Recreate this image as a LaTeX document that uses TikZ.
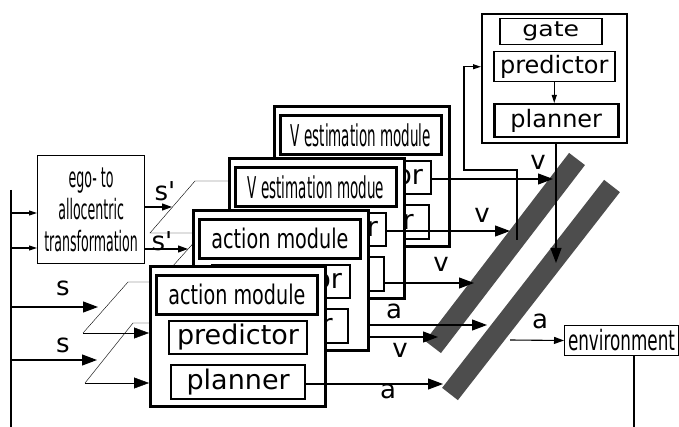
\documentclass[tikz,border=0pt]{standalone}
\usepackage{fontspec}
\setmainfont{DejaVu Sans}
\newfontfamily\narrowfont[FakeStretch=0.71]{DejaVu Sans}
\newfontfamily\semifont[FakeStretch=0.6]{DejaVu Sans}
\newfontfamily\vnarrowfont[FakeStretch=0.45]{DejaVu Sans}
\newfontfamily\widefont[FakeStretch=1.2]{DejaVu Sans}
\usepackage{tikz}
\usetikzlibrary{positioning,arrows.meta,backgrounds}
\definecolor{bargray}{HTML}{4D4D4D}

\begin{document}
\begin{tikzpicture}[x=1pt, y=-1pt, line width=1.1pt,
  box/.style={draw, fill=white, inner sep=0pt, anchor=north west},
  module/.style={box, line width=3pt, minimum width=175, minimum height=140},
  titlebox/.style={box, line width=2.8pt, minimum width=161, minimum height=39},
  subbox/.style={box, line width=2pt, minimum height=33, font=\fontsize{27}{30}\selectfont},
  lbl/.style={inner sep=0pt, font=\fontsize{26}{28}\selectfont},
  bar/.style={draw=bargray, line width=20pt},
  bigarrow/.style={-{Triangle[length=15pt,width=11pt]}},
  midarrow/.style={-{Triangle[length=10pt,width=7pt]}},
  smallarrow/.style={-{Triangle[length=8pt,width=5pt]}}]
\useasboundingbox (0,0) rectangle (679,427);

% input bus and the ego/allo transformation
\coordinate (bustop) at (11,190);
\coordinate (busbot) at (11,427);
\draw (bustop) -- (busbot);
\node[box, line width=1.2pt, minimum width=107, minimum height=108, align=center,
  font=\vnarrowfont\fontsize{28}{32}\selectfont] (ego) at (37,155)
  {ego- to\\allocentric\\transformation};
\coordinate (bus1) at (11,213);
\coordinate (bus2) at (11,248);
\coordinate (bus3) at (11,307);
\coordinate (bus4) at (11,360);
\draw[smallarrow] (bus1) -- (bus1 -| ego.west);
\draw[smallarrow] (bus2) -- (bus2 -| ego.west);

% stacked modules, back to front
\foreach \n/\x/\y/\ttl/\fnt in {m4/273/105/{V estimation module}/\vnarrowfont\fontsize{30}{32},
    m2/228/157/{V estimation modue}/\vnarrowfont\fontsize{30}{32},
    m3/192/209/{action module}/\narrowfont\fontsize{27}{30},
    m1/149/265/{action module}/\narrowfont\fontsize{27}{30}}{
  \node[module] (\n) at (\x,\y) {};
  \node[titlebox, font=\fnt\selectfont] (\n-t) at ([shift={(6,9)}]\n.north west) {\ttl};
  \node[subbox, minimum width=138] (\n-p) at ([shift={(19,55)}]\n.north west) {predictor};
  \node[subbox, minimum width=134, minimum height=34, line width=2.3pt] (\n-l) at ([shift={(21,99)}]\n.north west) {planner};
}

% fan-out wires, partly hidden by the modules
\begin{scope}[on background layer]
  \coordinate (zs1t) at (195,181);
  \coordinate (zs1b) at (150,233);
  \draw (m2.west |- zs1t) -- (zs1t) -- (zs1b) -- (zs1b -| m3.west);
  \coordinate (zs2t) at (207,228);
  \coordinate (zs2b) at (163,277);
  \draw (m4.west |- zs2t) -- (zs2t) -- (zs2b) -- (zs2b -| m2.west);
  \coordinate (zs3t) at (128,282);
  \coordinate (zs3b) at (83,333);
  \draw (zs3t -| m1.west) -- (zs3t) -- (zs3b);
  \draw[bigarrow] (zs3b) -- (zs3b -| m1.west);
  \coordinate (zs4t) at (133,323);
  \coordinate (zs4b) at (85,383);
  \draw (zs4t -| m1.west) -- (zs4t) -- (zs4b);
  \draw[bigarrow] (zs4b) -- (zs4b -| m1.west);
\end{scope}

% inputs onto the fan-out wires
\coordinate (sp1) at (172,207);
\coordinate (sp2) at (188,249);
\coordinate (sin1) at (98,307);
\coordinate (sin2) at (97,360);
\draw[midarrow] (ego.east |- sp1) -- (sp1);
\draw[midarrow] (ego.east |- sp2) -- (sp2);
\draw[bigarrow] (bus3) -- (sin1);
\draw[bigarrow] (bus4) -- (sin2);
\node[lbl] (lsp1) at (165,191) {s\textquotesingle};
\node[lbl] (lsp2) at (162,241) {s\textquotesingle};
\node[lbl] (ls1) at (63,288) {s};
\node[lbl] (ls2) at (63,345) {s};

% the two selector bars
\draw[bar] (577,159) -- (433,347);
\draw[bar] (612,186) -- (450,394);

% gating module
\node[box, line width=1.8pt, minimum width=145, minimum height=129] (g) at (481,13) {};
\node[box, line width=1.5pt, minimum width=102, minimum height=26,
  font=\widefont\fontsize{21}{24}\selectfont] (gg) at ([shift={(18,5)}]g.north west) {gate};
\node[box, line width=1.5pt, minimum width=121, minimum height=30,
  font=\fontsize{24}{28}\selectfont] (gp) at ([shift={(12,38)}]g.north west) {predictor};
\node[box, line width=2.5pt, minimum width=124, minimum height=33,
  font=\fontsize{24}{28}\selectfont] (gl) at ([shift={(12,90)}]g.north west) {planner};
\draw[smallarrow] (gp.south) -- (gp.south |- gl.north);

% environment
\node[box, line width=1pt, minimum width=114, minimum height=30,
  font=\semifont\fontsize{28}{30}\selectfont] (env) at (564,325) {environment};

% module outputs onto the bars
\coordinate (v1) at (553,179);
\coordinate (v2) at (510,231);
\coordinate (v3) at (474,283);
\coordinate (a1) at (487,325);
\coordinate (v4) at (438,337);
\coordinate (a2) at (443,384);
\draw[bigarrow] (m4-p.east |- v1) -- (v1);
\draw[bigarrow] (m2-p.east |- v2) -- (v2);
\draw[bigarrow] (m2-l.east |- v3) -- (v3);
\draw[bigarrow] (m3.east |- a1) -- (a1);
\draw[bigarrow] (m3.east |- v4) -- (v4);
\draw[bigarrow] (m1-l.east |- a2) -- (a2);
\node[lbl] (lv1) at (538,162) {v};
\node[lbl] (lv2) at (482,215) {v};
\node[lbl] (lv3) at (441,264) {v};
\node[lbl] (la1) at (394,311) {a};
\node[lbl] (lv4) at (400,350) {v};
\node[lbl] (la2) at (388,391) {a};

% feedback into the gate and gate output
\coordinate (fb0) at (517,240);
\coordinate (fb1) at (464,170);
\draw[smallarrow] (fb0) |- (fb1) |- (g.west |- gp);
\coordinate (gout) at (556,263);
\draw[bigarrow] (g.south -| gout) -- (gout);

% selected action to the environment
\coordinate (envin) at (510,340);
\coordinate (envout) at (634,427);
\draw[midarrow] (envin) -- (env.west);
\draw (env.south -| envout) -- (envout);
\node[lbl] (la3) at (540,321) {a};
\end{tikzpicture}
\end{document}
